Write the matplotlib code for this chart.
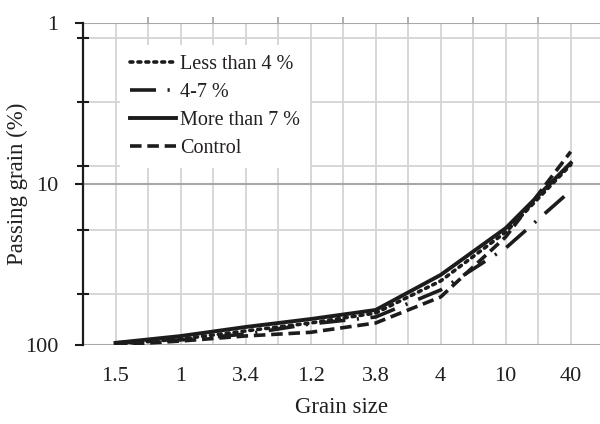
import numpy as np
import matplotlib
matplotlib.use("Agg")
import matplotlib.pyplot as plt
from matplotlib.ticker import FixedLocator, NullFormatter

# -----------------------------
# Data
# -----------------------------
grain_labels = ["1.5", "1", "3.4", "1.2", "3.8", "4", "10", "40"]
less_than_4 = [98.6, 91.8, 81.8, 73.0, 63.3, 40.0, 19.9, 7.6]
from_4_to_7 = [97.0, 93.0, 85.5, 74.0, 67.0, 45.5, 25.0, 11.0]
more_than_7 = [97.0, 88.0, 77.3, 69.0, 60.6, 36.7, 18.8, 7.4]
control = [100.0, 94.5, 87.9, 83.4, 73.0, 50.3, 21.3, 6.3]

plt.rcParams["font.family"] = ["Liberation Serif", "DejaVu Serif"]
txt = "#231f20"
ink = "#1c1c1c"
light = "#d4d4d4"
dark = "#a8a8a8"

fig = plt.figure(figsize=(6, 4.24), dpi=100)
ax = fig.add_axes([83 / 600, 1 - 345 / 424, 517 / 600, 322 / 424])

x = np.arange(len(grain_labels))

ax.plot(x, less_than_4, color=ink, lw=2.6, linestyle=(0, (0.8, 1.4)),
        dash_capstyle="round", label="Less than 4 %", zorder=3)
ax.plot(x, from_4_to_7, color=ink, lw=2.6, linestyle=(0, (7.2, 3.2, 0.6, 3.2)),
        label="4-7 %", zorder=3)
ax.plot(x, more_than_7, color=ink, lw=2.8, linestyle="-",
        label="More than 7 %", zorder=3)
ax.plot(x, control, color=ink, lw=2.6, linestyle=(0, (3.2, 1.6)),
        label="Control", zorder=3)

# y axis: log, reversed (1 at top, 100 at bottom)
ax.set_yscale("log")
ax.set_ylim(100, 1)
ax.yaxis.set_major_locator(FixedLocator([1, 10, 100]))
ax.set_yticklabels(["1", "10", "100"])
minor_y = [1.24, 3.1, 7.75, 19.4, 48.5]
ax.yaxis.set_minor_locator(FixedLocator(minor_y))
ax.yaxis.set_minor_formatter(NullFormatter())
ax.tick_params(axis="y", which="major", direction="out", length=5.8, width=1.5,
               color=ink, pad=12, labelsize=16, labelcolor=txt)
ax.tick_params(axis="y", which="minor", direction="inout", length=8, width=1.5,
               color=ink)

# x axis: categories, grid at every half step
ax.set_xlim(-0.5, 7.45)
ax.set_xticks(x)
ax.set_xticklabels(grain_labels)
ax.set_xticks(np.arange(0.5, 7, 1), minor=True)
ax.tick_params(axis="x", which="major", length=0, pad=16, labelsize=16,
               labelcolor=txt)
ax.tick_params(axis="x", which="minor", top=True, bottom=False, direction="out",
               length=4.5, width=1.3, color=dark)

for v in np.arange(0, 7.6, 0.5):
    ax.axvline(v, color=light, lw=1.3, zorder=0)
for v in minor_y:
    ax.axhline(v, color=light, lw=1.3, zorder=0)
for v in [1, 10, 100]:
    ax.axhline(v, color=dark, lw=1.5, zorder=0.5)

for s in ["top", "right", "bottom"]:
    ax.spines[s].set_visible(False)
ax.spines["left"].set_color(ink)
ax.spines["left"].set_linewidth(1.6)
ax.spines["left"].set_zorder(4)

ax.set_ylabel("Passing grain (%)", fontsize=16.5, color=txt)
ax.yaxis.set_label_coords(-55 / 517, 0.5)
ax.set_xlabel("Grain size", fontsize=16.5, color=txt, labelpad=8)

leg = ax.legend(loc="upper left", bbox_to_anchor=(37 / 517, 1 - 22 / 322),
                borderaxespad=0, frameon=True, fancybox=False, fontsize=14.5,
                handlelength=2.3, handletextpad=0.2, labelspacing=0.44,
                borderpad=0.5)
leg.get_frame().set_facecolor("white")
leg.get_frame().set_edgecolor("none")
leg.get_frame().set_alpha(1)
for t in leg.get_texts():
    t.set_color(txt)

fig.savefig("out.png", dpi=100)
